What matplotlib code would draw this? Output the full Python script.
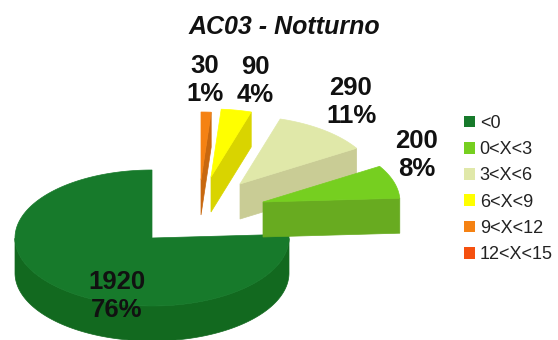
import numpy as np
import matplotlib
matplotlib.use("Agg")
import matplotlib.pyplot as plt
from matplotlib.patches import Polygon, Patch

plt.rcParams["font.family"] = ["Liberation Sans", "DejaVu Sans"]

# Chart data
title = "AC03 - Notturno"
categories = ["<0", "0<X<3", "3<X<6", "6<X<9", "9<X<12", "12<X<15"]
values = [1920, 200, 290, 90, 30, 0]
top_colors = ["#177a2b", "#76cf20", "#e0e8a9", "#ffff00", "#f58213", "#f5500f"]
side_colors = ["#12691f", "#68ab20", "#c9cc95", "#d9d400", "#c8680f", "#c0400c"]

# Projection of the tilted pie onto the canvas (pixel units)
CENTER = np.array([152.0, 238.0])
RX, RY, DEPTH = 137.0, 68.0, 35.0
START_ANGLE = 90.0
EXPLODE = [(0, 0), (111, -36), (88, -54), (59, -61), (49, -58), (0, 0)]
LABEL_POS = [(117, 296), (417, 155), (351, 102), (255, 81), (205, 80), None]


def project(angle, origin):
    a = np.radians(angle)
    return origin + np.column_stack((RX * np.cos(a), -RY * np.sin(a)))


def draw_slice(ax, a0, a1, origin, top, side):
    arc_angles = np.linspace(a0, a1, max(int(a1 - a0) * 2, 2))
    rim = project(arc_angles, origin)
    down = np.array([0, DEPTH])

    # Radial cut face on the clockwise edge, visible on detached slices
    if a1 - a0 < 180:
        edge = np.vstack((origin, rim[0], rim[0] + down, origin + down))
        ax.add_patch(Polygon(edge, fc=side, ec=side, lw=0.5, zorder=2))

    # Outer wall: only the part of the rim facing the viewer
    s = np.sin(np.radians(arc_angles)) < 0
    if s.any():
        front = rim[s]
        wall = np.vstack((front, (front + down)[::-1]))
        ax.add_patch(Polygon(wall, fc=side, ec=side, lw=0.5, zorder=2))

    ax.add_patch(Polygon(np.vstack((origin, rim)), fc=top, ec=top, lw=0.5, zorder=2))


fig = plt.figure(figsize=(5.58, 3.40), dpi=100)
ax = fig.add_axes([0, 0, 1, 1])
ax.set_xlim(0, 558)
ax.set_ylim(340, 0)
ax.axis("off")

total = sum(values)
sweeps = [v / total * 360 for v in values]
starts = START_ANGLE + np.concatenate(([0], np.cumsum(sweeps)[:-1]))

# Painted back to front so the detached slices sit over the main one
for i in [0, 4, 3, 2, 1]:
    draw_slice(ax, starts[i], starts[i] + sweeps[i], CENTER + EXPLODE[i],
               top_colors[i], side_colors[i])

for v, pos in zip(values, LABEL_POS):
    if pos is not None:
        ax.text(pos[0], pos[1], f"{v}\n{v / total * 100:.0f}%", ha="center",
                va="center", fontsize=18.5, fontweight="bold", color="#111111",
                linespacing=1.25, zorder=3)

ax.text(284, 27, title, ha="center", va="center", fontsize=18,
        fontweight="bold", fontstyle="italic", color="#111111")

handles = [Patch(fc=c, ec="none", label=n) for c, n in zip(top_colors, categories)]
ax.legend(handles=handles, loc="upper left", bbox_to_anchor=(464, 115),
          bbox_transform=ax.transData, frameon=False, fontsize=13,
          handlelength=0.62, handleheight=0.62, handletextpad=0.25,
          labelspacing=0.51, borderpad=0, borderaxespad=0, labelcolor="#222222")

fig.savefig("out.png", dpi=100)
